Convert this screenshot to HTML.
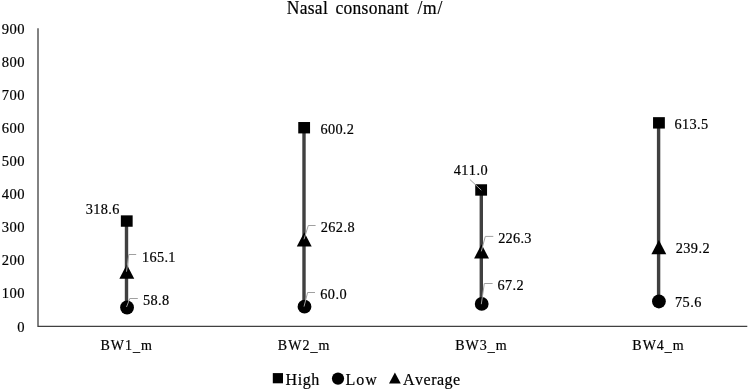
<!DOCTYPE html>
<html><head><meta charset="utf-8"><title>Nasal consonant /m/</title>
<style>
html,body{margin:0;padding:0;background:#fff;}
body{width:749px;height:391px;overflow:hidden;font-family:"Liberation Serif",serif;}
svg{display:block;will-change:transform;opacity:0.999;filter:blur(0.35px);}
text{font-family:"Liberation Serif",serif;fill:#000;stroke:#000;stroke-width:0.2px;font-kerning:none;white-space:pre;}
</style></head>
<body>
<svg width="749" height="391" viewBox="0 0 749 391">
<rect width="749" height="391" fill="#fff"/>
<g stroke="#404040" stroke-width="1.3" fill="none">
<path d="M38 28.3 V326.45 H747.3"/>
</g>
<g stroke="#404040" stroke-width="3.4">
<line x1="126.5" y1="220.8" x2="126.5" y2="307.0"/>
<line x1="304.0" y1="127.4" x2="304.0" y2="306.6"/>
<line x1="481.3" y1="190.2" x2="481.3" y2="304.2"/>
<line x1="658.6" y1="123.0" x2="658.6" y2="301.4"/>
</g>
<g fill="#000">
<rect x="120.85" y="215.35" width="11.8" height="11.4"/>
<circle cx="127.05" cy="307.50" r="6.9"/>
<path d="M126.80 264.55 l7.45 14.3 h-14.9z"/>
<rect x="298.25" y="122.02" width="11.8" height="11.4"/>
<circle cx="304.50" cy="306.65" r="6.9"/>
<path d="M304.25 232.16 l7.45 14.3 h-14.9z"/>
<rect x="475.25" y="184.26" width="11.8" height="11.4"/>
<circle cx="481.70" cy="303.97" r="6.9"/>
<path d="M481.55 244.26 l7.45 14.3 h-14.9z"/>
<rect x="653.05" y="117.16" width="11.8" height="11.4"/>
<circle cx="658.90" cy="301.48" r="6.9"/>
<path d="M658.85 239.98 l7.45 14.3 h-14.9z"/>
</g>
<g stroke="#a0a0a0" stroke-width="1" fill="none">
<path d="M126.5 271.7 L128.8 254.5 L136.2 254.5"/>
<path d="M126.5 307.0 L129.8 298.5 L137.8 298.5"/>
<path d="M304.0 239.3 L308.3 225.5 L315.6 225.5"/>
<path d="M304.0 306.6 L307.6 292.5 L315.0 292.5"/>
<path d="M481.3 251.4 L485.3 236.4 L493.3 236.4"/>
<path d="M481.3 304.2 L484.3 283.5 L492.6 283.5"/>
<path d="M481.3 190.2 L469.9 179.5"/>
</g>
<g fill="#000">
<rect x="272.8" y="373.1" width="10.2" height="10.2"/>
<circle cx="338" cy="378.6" r="6.1"/>
<path d="M394.9 372.5 l5.9 10.9 h-11.8z"/>
</g>
<text x="286.70" y="14.00" transform="translate(0 14.00) scale(1 1.055) translate(0 -14.00)" style="font-size:17.5px;letter-spacing:0.33px">Nasal</text>
<text x="335.45" y="14.00" transform="translate(0 14.00) scale(1 1.055) translate(0 -14.00)" style="font-size:17.5px;letter-spacing:0.29px">consonant</text>
<text x="417.45" y="14.00" transform="translate(0 14.00) scale(1 1.055) translate(0 -14.00)" style="font-size:17.5px;letter-spacing:0.78px">/m/</text>
<text x="17.35" y="331.50" style="font-size:14.6px;letter-spacing:0.45px">0</text>
<text x="1.85" y="298.44" style="font-size:14.6px;letter-spacing:0.45px">100</text>
<text x="1.85" y="265.39" style="font-size:14.6px;letter-spacing:0.45px">200</text>
<text x="1.85" y="232.33" style="font-size:14.6px;letter-spacing:0.45px">300</text>
<text x="1.85" y="199.28" style="font-size:14.6px;letter-spacing:0.45px">400</text>
<text x="1.85" y="166.22" style="font-size:14.6px;letter-spacing:0.45px">500</text>
<text x="1.85" y="133.16" style="font-size:14.6px;letter-spacing:0.45px">600</text>
<text x="1.85" y="100.11" style="font-size:14.6px;letter-spacing:0.45px">700</text>
<text x="1.85" y="67.05" style="font-size:14.6px;letter-spacing:0.45px">800</text>
<text x="1.85" y="34.00" style="font-size:14.6px;letter-spacing:0.45px">900</text>
<text x="85.70" y="213.90" style="font-size:14.3px;letter-spacing:0.37px">318.6</text>
<text x="142.07" y="261.70" style="font-size:14.3px;letter-spacing:0.30px">165.1</text>
<text x="142.97" y="304.80" style="font-size:14.3px;letter-spacing:0.37px">58.8</text>
<text x="320.53" y="133.70" style="font-size:14.3px;letter-spacing:0.29px">600.2</text>
<text x="320.65" y="232.10" style="font-size:14.3px;letter-spacing:0.45px">262.8</text>
<text x="320.20" y="299.00" style="font-size:14.3px;letter-spacing:0.52px">60.0</text>
<text x="453.65" y="174.80" style="font-size:14.3px;letter-spacing:0.43px">411.0</text>
<text x="498.17" y="242.60" style="font-size:14.3px;letter-spacing:0.27px">226.3</text>
<text x="497.55" y="290.10" style="font-size:14.3px;letter-spacing:0.39px">67.2</text>
<text x="674.50" y="128.90" style="font-size:14.3px;letter-spacing:0.36px">613.5</text>
<text x="675.65" y="253.20" style="font-size:14.3px;letter-spacing:0.43px">239.2</text>
<text x="675.00" y="307.00" style="font-size:14.3px;letter-spacing:0.44px">75.6</text>
<text x="100.40" y="349.70" style="font-size:14.0px;letter-spacing:1.00px">BW1<tspan dy="1.6">_</tspan><tspan dy="-1.6">m</tspan></text>
<text x="277.83" y="349.70" style="font-size:14.0px;letter-spacing:1.00px">BW2<tspan dy="1.6">_</tspan><tspan dy="-1.6">m</tspan></text>
<text x="455.25" y="349.70" style="font-size:14.0px;letter-spacing:1.00px">BW3<tspan dy="1.6">_</tspan><tspan dy="-1.6">m</tspan></text>
<text x="632.30" y="349.70" style="font-size:14.0px;letter-spacing:1.00px">BW4<tspan dy="1.6">_</tspan><tspan dy="-1.6">m</tspan></text>
<text x="285.55" y="384.60" style="font-size:16.0px;letter-spacing:0.58px">High</text>
<text x="345.50" y="384.60" style="font-size:16.0px;letter-spacing:1.05px">Low</text>
<text x="403.00" y="384.60" style="font-size:16.0px;letter-spacing:0.49px">Average</text>
</svg>
</body></html>
